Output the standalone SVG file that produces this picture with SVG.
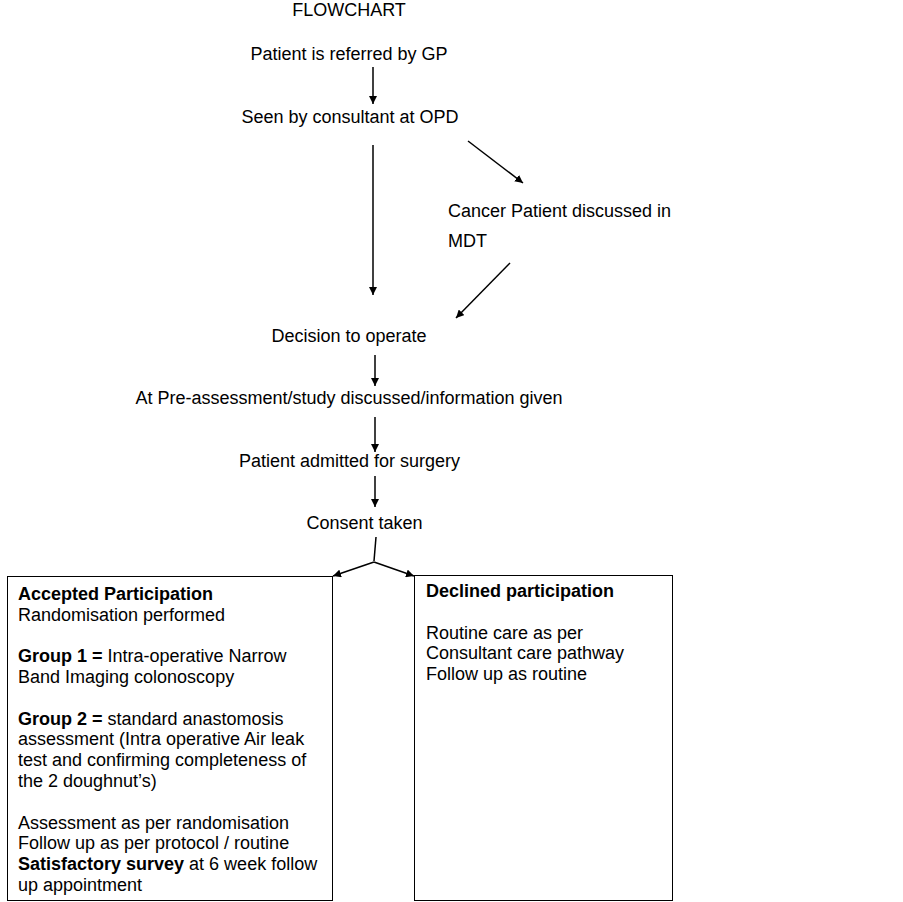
<svg xmlns="http://www.w3.org/2000/svg" width="903" height="902" viewBox="0 0 903 902">
<defs>
<style>
text{font-family:"Liberation Sans",Arial,sans-serif;font-size:18px;fill:#000}
.b{font-weight:bold}
.c{text-anchor:middle}
.ln{stroke:#000;stroke-width:1.5;fill:none}
.box{fill:#fff;stroke:#000;stroke-width:1}
</style>
<marker id="ah" viewBox="0 0 10 10" refX="10" refY="5" markerWidth="8" markerHeight="8" markerUnits="userSpaceOnUse" orient="auto">
<path d="M0,0 L10,5 L0,10 z" fill="#000"/>
</marker>
</defs>
<rect width="903" height="902" fill="#fff"/>
<g id="title"><text x="349" y="15.5" class="c">FLOWCHART</text></g>
<g id="n1"><text x="349" y="60" class="c">Patient is referred by GP</text></g>
<g id="n2"><text x="350" y="123" class="c">Seen by consultant at OPD</text></g>
<g id="n3"><text x="448" y="217">Cancer Patient discussed in</text><text x="448" y="247">MDT</text></g>
<g id="n4"><text x="349" y="342" class="c">Decision to operate</text></g>
<g id="n5"><text x="349" y="404" class="c">At Pre-assessment/study discussed/information given</text></g>
<g id="n6"><text x="349.5" y="467" class="c">Patient admitted for surgery</text></g>
<g id="n7"><text x="364.5" y="529" class="c">Consent taken</text></g>
<g id="accepted">
<rect class="box" x="7.5" y="576.5" width="325" height="324"/>
<text x="18" y="600" class="b">Accepted Participation</text>
<text x="18" y="621">Randomisation performed</text>
<text x="18" y="662"><tspan class="b">Group 1 =</tspan> Intra-operative Narrow</text>
<text x="18" y="683">Band Imaging colonoscopy</text>
<text x="18" y="725"><tspan class="b">Group 2 =</tspan> standard anastomosis</text>
<text x="18" y="745">assessment (Intra operative Air leak</text>
<text x="18" y="766">test and confirming completeness of</text>
<text x="18" y="787">the 2 doughnut’s)</text>
<text x="18" y="829">Assessment as per randomisation</text>
<text x="18" y="849">Follow up as per protocol / routine</text>
<text x="18" y="870"><tspan class="b">Satisfactory survey</tspan> at 6 week follow</text>
<text x="18" y="891">up appointment</text>
</g>
<g id="declined">
<rect class="box" x="414.5" y="575.5" width="258" height="325"/>
<text x="426" y="597" class="b">Declined participation</text>
<text x="426" y="639">Routine care as per</text>
<text x="426" y="659">Consultant care pathway</text>
<text x="426" y="680">Follow up as routine</text>
</g>
<g id="connectors">
<line class="ln" x1="373" y1="67" x2="373" y2="104" marker-end="url(#ah)"/>
<line class="ln" x1="373" y1="145" x2="373" y2="295" marker-end="url(#ah)"/>
<line class="ln" x1="468" y1="141" x2="523" y2="183" marker-end="url(#ah)"/>
<line class="ln" x1="510" y1="263" x2="456" y2="318" marker-end="url(#ah)"/>
<line class="ln" x1="375" y1="355" x2="375" y2="386" marker-end="url(#ah)"/>
<line class="ln" x1="375" y1="417" x2="375" y2="452" marker-end="url(#ah)"/>
<line class="ln" x1="375" y1="476" x2="375" y2="507" marker-end="url(#ah)"/>
<line class="ln" x1="376" y1="537" x2="374" y2="561"/>
<line class="ln" x1="374" y1="562" x2="333" y2="576" marker-end="url(#ah)"/>
<line class="ln" x1="374" y1="562" x2="414" y2="576" marker-end="url(#ah)"/>
</g>
</svg>
